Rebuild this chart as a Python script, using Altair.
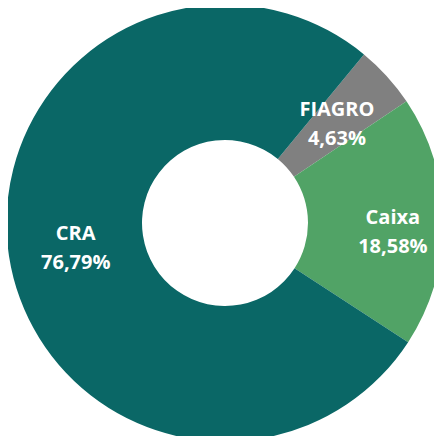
import math
import altair as alt
import pandas as pd

categories = ["FIAGRO", "Caixa", "CRA"]
values = [4.63, 18.58, 76.79]
labels = ["4,63%", "18,58%", "76,79%"]
colors = ["#808080", "#51a366", "#0a6766"]

df = pd.DataFrame({"cat": categories, "val": values, "lab": labels, "ord": [0, 1, 2]})
df["text"] = df["cat"] + "\n" + df["lab"]

start = math.radians(39.5)
total = sum(values)
theta_scale = alt.Scale(domain=[0, total], range=[start, start + 2 * math.pi])

CX, CY = 217, 215

arcs = alt.Chart(df).mark_arc(outerRadius=218.5, innerRadius=83, x=CX, y=CY).encode(
    theta=alt.Theta("val:Q", stack=True, scale=theta_scale),
    order=alt.Order("ord:Q"),
    color=alt.Color("cat:N", scale=alt.Scale(domain=categories, range=colors), legend=None),
)

text = alt.Chart(df).transform_window(
    cum="sum(val)", sort=[alt.SortField("ord")]
).transform_calculate(
    mid="datum.cum - datum.val / 2 + (datum.cat == 'Caixa' ? 0.75 : 0)",
    r="datum.cat == 'Caixa' ? 168 : 151",
).mark_text(
    x=CX, y=CY, dy=-12, font="Open Sans", fontSize=20, fontWeight="bold", color="white",
    lineBreak="\n", lineHeight=29, align="center", baseline="middle"
).encode(
    theta=alt.Theta("mid:Q", stack=None, scale=theta_scale),
    radius=alt.Radius("r:Q", scale=None),
    text="text:N",
)

chart = alt.layer(arcs, text).properties(
    width=426, height=428, padding=0, autosize=alt.AutoSizeParams(type="none")
).configure_view(stroke=None)

chart.save("out.html", embed_options={"renderer": "svg", "actions": False})
